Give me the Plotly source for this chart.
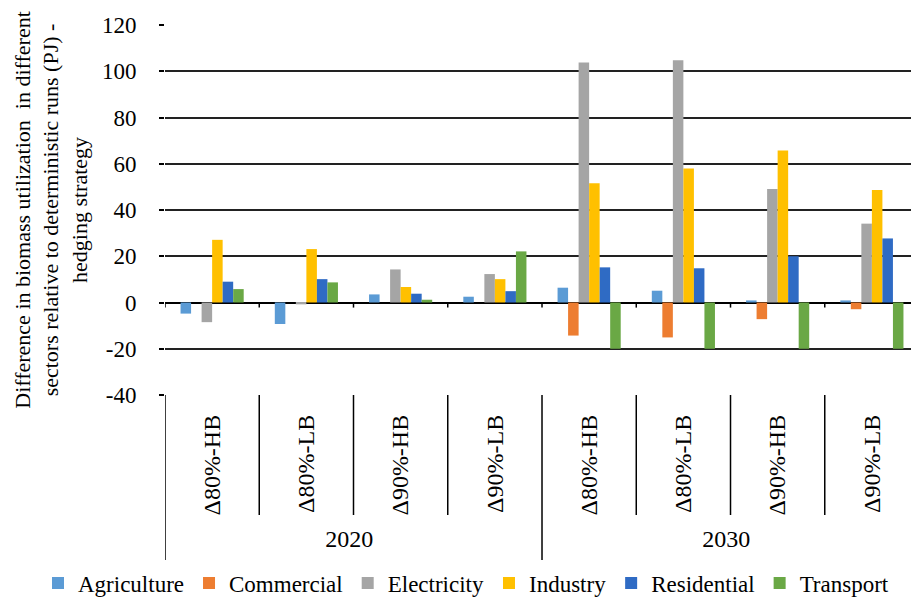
import plotly.graph_objects as go

# Scenario groups (outer level: year, inner level: scenario)
years = ["2020", "2020", "2020", "2020", "2030", "2030", "2030", "2030"]
scenarios = ["Δ80%-HB", "Δ80%-LB", "Δ90%-HB", "Δ90%-LB",
             "Δ80%-HB", "Δ80%-LB", "Δ90%-HB", "Δ90%-LB"]

sectors = ["Agriculture", "Commercial", "Electricity", "Industry", "Residential", "Transport"]

# Difference in biomass utilization per sector (PJ)
agriculture = [-4.8, -9.3, 3.5, 2.5, 6.4, 5.1, 0.9, 0.9]
commercial = [0.0, 0.0, 0.0, 0.0, -14.3, -15.1, -7.2, -2.9]
electricity = [-8.5, -0.8, 14.3, 12.3, 103.8, 104.8, 49.1, 34.1]
industry = [27.1, 23.1, 6.7, 10.1, 51.6, 58.0, 65.7, 48.7]
residential = [9.0, 10.1, 3.8, 4.9, 15.2, 14.8, 20.0, 27.7]
transport = [5.8, 8.7, 1.2, 22.1, -20.0, -20.0, -20.0, -20.0]

y_ticks = [-40, -20, 0, 20, 40, 60, 80, 100, 120]
y_tick_text = ["-40", "-20", "0", "20", "40", "60", "80", "100", "120"]

series = [agriculture, commercial, electricity, industry, residential, transport]
colors = ["#5B9BD5", "#ED7D31", "#A5A5A5", "#FFC000", "#2F6BC4", "#6AA845"]

FONT = "Liberation Serif"
W, H = 911, 598
L, R, T, B = 165, 0, 25, 203
plot_w = W - L - R
plot_h = H - T - B

fig = go.Figure()
for name, vals, col in zip(sectors, series, colors):
    fig.add_trace(go.Bar(x=[years, scenarios], y=vals, name=name,
                         marker=dict(color=col, line=dict(width=0))))

shapes = []
# short tick marks where the category axis crosses zero
for b in [i - 0.5 for i in range(9)]:
    shapes.append(dict(type="line", xref="x", yref="y", x0=b, x1=b, y0=0, y1=-2.2,
                       line=dict(color="black", width=1.5)))
# inner separators between scenarios
for b in [0.5, 1.5, 2.5, 4.5, 5.5, 6.5]:
    shapes.append(dict(type="line", xref="x", yref="paper", x0=b, x1=b,
                       y0=0, y1=-120 / plot_h, line=dict(color="black", width=1.5)))
# outer separators between years
for b in [-0.5, 3.5]:
    shapes.append(dict(type="line", xref="x", yref="paper", x0=b, x1=b,
                       y0=0, y1=-165 / plot_h, line=dict(color="black", width=1.5)))

fig.update_layout(
    width=W, height=H,
    margin=dict(l=L, r=R, t=T, b=B, autoexpand=False),
    plot_bgcolor="white", paper_bgcolor="white",
    font=dict(family=FONT, color="black", size=22),
    barmode="group", bargap=0.33, bargroupgap=0,
    shapes=shapes,
    legend=dict(orientation="h", xref="paper", yref="paper",
                x=(38 - L) / plot_w, xanchor="left",
                y=-(583 - (H - B)) / plot_h, yanchor="middle",
                font=dict(size=23), traceorder="normal", tracegroupgap=0),
    xaxis=dict(type="multicategory", range=[-0.5, 7.415],
               showline=False, showgrid=False, zeroline=False, ticks="",
               showdividers=False, tickangle=-90, ticklabelstandoff=14,
               tickfont=dict(size=24), automargin=False),
    yaxis=dict(range=[-40, 120], tickvals=y_ticks, ticktext=y_tick_text,
               showgrid=True, gridcolor="#222222", gridwidth=1.5,
               zeroline=True, zerolinecolor="black", zerolinewidth=1.5,
               ticks="outside", ticklen=5, tickcolor="black", tickwidth=1.5,
               tickfont=dict(size=23), ticklabelstandoff=18, showline=False,
               automargin=False,
               title=dict(text="Difference in biomass utilization  in different<br>"
                               "sectors relative to deterministic runs (PJ) -<br>"
                               "hedging strategy",
                          font=dict(size=22), standoff=8)),
)

fig.write_html("out.html")
